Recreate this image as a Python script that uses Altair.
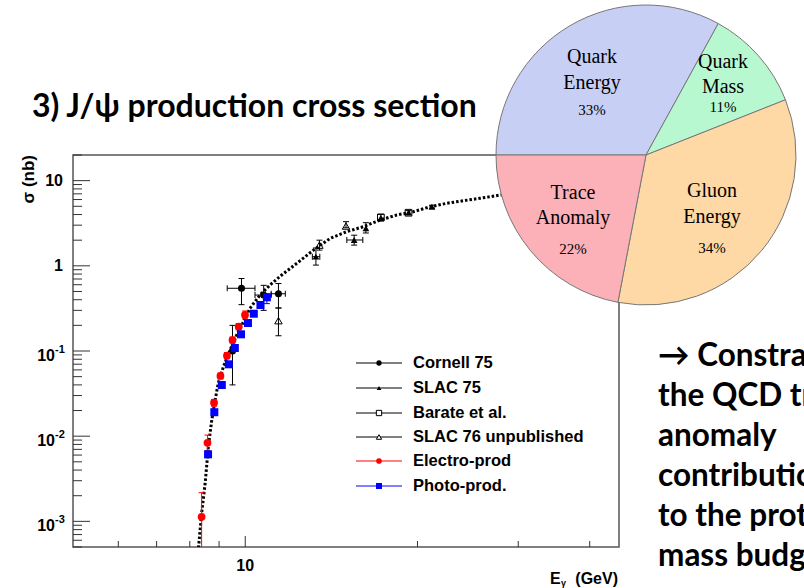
import math
import altair as alt
import pandas as pd

# ---------------- data ----------------
# theory curve (dotted)
curve_E = [8.23, 8.39, 8.51, 8.62, 8.74, 8.86, 8.97, 9.16, 9.41, 9.66, 9.93, 10.19, 10.61,
           11.05, 11.58, 12.35, 13.16, 14.07, 15.05, 16.09, 17.21, 18.40, 19.67, 21.04,
           22.5, 24.06, 25.7, 27.9, 35.0, 45.0]
curve_sigma = [3.0e-4, 1.24e-3, 2.8e-3, 7.5e-3, 1.55e-2, 2.66e-2, 4.18e-2, 6.54e-2, 0.103,
               0.154, 0.221, 0.317, 0.454, 0.596, 0.78, 1.09, 1.53, 2.10, 2.52, 2.88, 3.45,
               3.95, 4.32, 4.94, 5.42, 5.81, 6.20, 6.78, 8.0, 9.2]

# Cornell 75
cornell_E = [9.85, 10.77, 11.43, 9.50]
cornell_sigma = [0.545, 0.454, 0.47, 0.10]
cornell_lo = [0.35, 0.30, 0.32, 0.04]
cornell_hi = [0.71, 0.59, 0.62, 0.20]
cornell_Elo = [9.3, 10.4, 11.1, None]
cornell_Ehi = [10.4, 11.1, 11.75, None]

# SLAC 75
slac75_E = [13.29, 15.5, 16.25, 17.26, 19.29, 21.2]
slac75_sigma = [1.28, 2.01, 2.76, 3.67, 4.21, 4.94]
slac75_lo = [1.02, 1.75, 2.43, 3.36, 4.0, 4.75]
slac75_hi = [1.62, 2.29, 3.21, 4.02, 4.45, 5.15]
slac75_Elo = [13.1, 15.05, None, None, None, None]
slac75_Ehi = [13.5, 16.05, None, None, None, None]

# Barate et al.
barate_E = [17.26, 19.29]
barate_sigma = [3.7, 4.2]

# SLAC 76 unpublished
slac76_E = [11.43, 13.48, 15.0]
slac76_sigma = [0.227, 1.75, 2.93]
slac76_lo = [0.151, 1.53, 2.8]
slac76_hi = [0.32, 2.0, 3.3]

# Electro-production
electro_E = [8.39, 8.59, 8.82, 9.05, 9.29, 9.50, 9.74, 9.99]
electro_sigma = [1.13e-3, 8.37e-3, 2.47e-2, 5.09e-2, 8.81e-2, 0.1346, 0.193, 0.265]
electro_lo = [1e-4, 6.8e-3, 2.25e-2, 4.7e-2, 8.1e-2, 0.124, 0.177, 0.238]
electro_hi = [2.17e-3, 1.03e-2, 2.7e-2, 5.5e-2, 9.6e-2, 0.146, 0.21, 0.295]

# Photo-production
photo_E = [8.61, 8.83, 9.10, 9.36, 9.59, 9.83, 10.11, 10.35, 10.63, 10.91]
photo_sigma = [6.12e-3, 1.91e-2, 3.99e-2, 6.98e-2, 0.1084, 0.157, 0.213, 0.274, 0.347, 0.427]
photo_lo = [5.9e-3, 1.85e-2, 3.85e-2, 6.75e-2, 0.105, 0.152, 0.206, 0.265, 0.336, 0.36]
photo_hi = [6.35e-3, 1.97e-2, 4.13e-2, 7.2e-2, 0.112, 0.162, 0.22, 0.283, 0.358, 0.47]

# axes
y_major = [10, 1, 0.1, 0.01, 0.001]
y_label_base = ["10", "1", "10", "10", "10"]
y_label_exp = ["", "", "-1", "-2", "-3"]
y_minor = [m * d for d in [1e-4, 1e-3, 1e-2, 1e-1, 1, 10] for m in range(2, 10)
           if 5e-4 <= m * d <= 20]
x_major = [10]
x_minor = [6, 7, 8, 9, 20, 30, 40]

legend_labels = ["Cornell 75", "SLAC 75", "Barate et al.", "SLAC 76 unpublished",
                 "Electro-prod", "Photo-prod."]

# pie
pie_parts = ["Quark Energy", "Quark Mass", "Gluon Energy", "Trace Anomaly"]
pie_pcts = [33, 11, 34, 22]
pie_colors = ["#c8cff5", "#b8f8d0", "#fed8a5", "#fcb0b8"]
pie_line1 = ["Quark", "Quark", "Gluon", "Trace"]
pie_line2 = ["Energy", "Mass", "Energy", "Anomaly"]
pie_pct_text = ["33%", "11%", "34%", "22%"]

title_text = "3) J/\u03c8 production cross section"
side_text = ["\u2192 Constrain", "the QCD trace", "anomaly", "contribution",
             "to the proton", "mass budget"]

# ---------------- chart ----------------
W, H = 546, 392
xs = alt.Scale(type="log", domain=[5, 45], nice=False)
ys = alt.Scale(type="log", domain=[5e-4, 20], nice=False)
SANS = "Liberation Sans"
dummy = pd.DataFrame({"a": [0]})


def X(f):
    return alt.X(f"{f}:Q", scale=xs, axis=None)


def Y(f):
    return alt.Y(f"{f}:Q", scale=ys, axis=None)


layers = []

# ticks
layers.append(alt.Chart(pd.DataFrame({"v": y_major})).mark_rule(color="#333", strokeWidth=1)
              .encode(y=Y("v"), x=alt.value(0), x2=alt.value(17)))
layers.append(alt.Chart(pd.DataFrame({"v": y_minor})).mark_rule(color="#333", strokeWidth=1)
              .encode(y=Y("v"), x=alt.value(0), x2=alt.value(9)))
layers.append(alt.Chart(pd.DataFrame({"v": x_major})).mark_rule(color="#333", strokeWidth=1)
              .encode(x=X("v"), y=alt.value(H), y2=alt.value(H - 11)))
layers.append(alt.Chart(pd.DataFrame({"v": x_minor})).mark_rule(color="#333", strokeWidth=1)
              .encode(x=X("v"), y=alt.value(H), y2=alt.value(H - 6)))

# y tick labels
ylab = pd.DataFrame({"v": y_major, "base": y_label_base, "exp": y_label_exp})
plain = ylab[ylab["exp"] == ""]
expd = ylab[ylab["exp"] != ""]
layers.append(alt.Chart(plain).mark_text(font=SANS, fontSize=16, fontWeight="bold",
                                         align="right", baseline="middle")
              .encode(y=Y("v"), x=alt.value(-10), text="base:N"))
layers.append(alt.Chart(expd).mark_text(font=SANS, fontSize=16, fontWeight="bold",
                                        align="right", baseline="middle", dy=5)
              .encode(y=Y("v"), x=alt.value(-18), text="base:N"))
layers.append(alt.Chart(expd).mark_text(font=SANS, fontSize=11, fontWeight="bold",
                                        align="left", baseline="middle", dy=-1)
              .encode(y=Y("v"), x=alt.value(-18), text="exp:N"))
# x tick label
layers.append(alt.Chart(pd.DataFrame({"v": x_major, "t": ["10"]}))
              .mark_text(font=SANS, fontSize=16, fontWeight="bold", baseline="alphabetic")
              .encode(x=X("v"), y=alt.value(416), text="t:N"))

# axis titles
layers.append(alt.Chart(dummy).mark_text(text="\u03c3 (nb)", font=SANS, fontSize=17,
                                         fontWeight="bold", angle=270, align="right",
                                         baseline="middle")
              .encode(x=alt.value(-44), y=alt.value(0)))
layers.append(alt.Chart(dummy).mark_text(text="(GeV)", font=SANS, fontSize=16,
                                         fontWeight="bold", align="right")
              .encode(x=alt.value(545), y=alt.value(424)))
layers.append(alt.Chart(dummy).mark_text(text="E", font=SANS, fontSize=16,
                                         fontWeight="bold", align="left")
              .encode(x=alt.value(477), y=alt.value(424)))
layers.append(alt.Chart(dummy).mark_text(text="\u03b3", font=SANS, fontSize=9,
                                         fontWeight="bold", align="left")
              .encode(x=alt.value(488), y=alt.value(428)))

# theory curve
layers.append(alt.Chart(pd.DataFrame({"E": curve_E, "s": curve_sigma}))
              .mark_line(color="black", strokeWidth=3, strokeDash=[2.5, 2], clip=True)
              .encode(x=X("E"), y=Y("s")))


def series(E, s, lo=None, hi=None, Elo=None, Ehi=None, color="black", shape="circle",
           size=45, filled=True):
    out = []
    df = pd.DataFrame({"E": E, "s": s})
    if lo is not None:
        df["lo"] = lo
        df["hi"] = hi
        out.append(alt.Chart(df).mark_rule(color=color, strokeWidth=1, clip=True)
                   .encode(x=X("E"), y=Y("lo"), y2="hi:Q"))
        for f in ["lo", "hi"]:
            out.append(alt.Chart(df).mark_tick(orient="horizontal", size=6, thickness=1,
                                               color=color, clip=True, opacity=1)
                       .encode(x=X("E"), y=Y(f)))
    if Elo is not None:
        dx = pd.DataFrame({"s": s, "Elo": Elo, "Ehi": Ehi}).dropna()
        out.append(alt.Chart(dx).mark_rule(color=color, strokeWidth=1, clip=True)
                   .encode(y=Y("s"), x=X("Elo"), x2="Ehi:Q"))
        for f in ["Elo", "Ehi"]:
            out.append(alt.Chart(dx).mark_tick(orient="vertical", size=6, thickness=1,
                                               color=color, clip=True, opacity=1)
                       .encode(x=X(f), y=Y("s")))
    if filled:
        out.append(alt.Chart(df).mark_point(shape=shape, size=size, filled=True, color=color,
                                            opacity=1, clip=True)
                   .encode(x=X("E"), y=Y("s")))
    else:
        out.append(alt.Chart(df).mark_point(shape=shape, size=size, filled=False, color=color,
                                            opacity=1, strokeWidth=1, clip=True)
                   .encode(x=X("E"), y=Y("s")))
    return out


layers += series(cornell_E, cornell_sigma, cornell_lo, cornell_hi, cornell_Elo, cornell_Ehi,
                 color="black", shape="circle", size=50)
layers += series(slac75_E, slac75_sigma, slac75_lo, slac75_hi, slac75_Elo, slac75_Ehi,
                 color="black", shape="triangle-up", size=45)
layers += series(barate_E, barate_sigma, color="black", shape="square", size=45, filled=False)
layers += series(slac76_E, slac76_sigma, slac76_lo, slac76_hi, color="black",
                 shape="triangle-up", size=55, filled=False)
layers += series(electro_E, electro_sigma, electro_lo, electro_hi, color="#ff0000",
                 shape="circle", size=60)
layers += series(photo_E, photo_sigma, photo_lo, photo_hi, color="#0000ff",
                 shape="square", size=64)

# legend (inside the frame)
leg_y = [208, 233, 258, 282, 306, 331]
leg_style = [("black", "circle", True, 28), ("black", "triangle-up", True, 22),
             ("black", "square", False, 28), ("black", "triangle-up", False, 28),
             ("#ff0000", "circle", True, 32), ("#0000ff", "square", True, 36)]
for lab, yy, (c, shp, fl, sz) in zip(legend_labels, leg_y, leg_style):
    layers.append(alt.Chart(dummy).mark_rule(color=c, strokeWidth=1)
                  .encode(x=alt.value(283), x2=alt.value(329), y=alt.value(yy)))
    layers.append(alt.Chart(dummy).mark_point(shape=shp, filled=fl, color=c, size=sz, opacity=1,
                                              fill=c if fl else "white", strokeWidth=1)
                  .encode(x=alt.value(306), y=alt.value(yy)))
    layers.append(alt.Chart(dummy).mark_text(text=lab, font=SANS, fontSize=16.5,
                                             fontWeight="bold", align="left",
                                             baseline="middle")
                  .encode(x=alt.value(340), y=alt.value(yy)))

# pie chart
pie_df = pd.DataFrame({"part": pie_parts, "pct": pie_pcts, "idx": list(range(len(pie_parts)))})
layers.append(alt.Chart(pie_df).mark_arc(radius=150, stroke="#777", strokeWidth=1)
              .encode(theta=alt.Theta("pct:Q", stack=True,
                                      scale=alt.Scale(range=[-math.pi / 2, 3 * math.pi / 2])),
                      color=alt.Color("part:N", scale=alt.Scale(domain=pie_parts,
                                                                range=pie_colors),
                                      legend=None),
                      order=alt.Order("idx:Q"),
                      x=alt.value(573), y=alt.value(0)))
pie_pos = [(519, -98, -72, -45), (650, -93, -68, -48), (639, 36, 62, 93), (500, 38, 63, 94)]
SERIF = "Liberation Serif"
for l1, l2, pt, (px, y1, y2, y3) in zip(pie_line1, pie_line2, pie_pct_text, pie_pos):
    for t, yy, fs in [(l1, y1, 20), (l2, y2, 20), (pt, y3, 15)]:
        layers.append(alt.Chart(dummy).mark_text(text=t, font=SERIF, fontSize=fs,
                                                 align="center", baseline="middle",
                                                 color="black")
                      .encode(x=alt.value(px), y=alt.value(yy)))

# slide texts
layers.append(alt.Chart(dummy).mark_text(text=title_text, font="Lato", fontSize=32,
                                         fontWeight="bold", align="left",
                                         baseline="alphabetic", color="black")
              .encode(x=alt.value(-41), y=alt.value(-38)))
for i, t in enumerate(side_text):
    layers.append(alt.Chart(dummy).mark_text(text=t, font="Lato", fontSize=31.5,
                                             fontWeight="bold", align="left",
                                             baseline="alphabetic", color="black")
                  .encode(x=alt.value(585), y=alt.value(211 + 40 * i)))

chart = (alt.layer(*layers)
         .properties(width=W, height=H, background="white",
                     autosize=alt.AutoSizeParams(type="none"),
                     padding={"left": 73, "top": 155, "right": 185, "bottom": 41})
         .configure_view(stroke="#555", strokeWidth=1.5))

chart.save("out.html", embed_options={"renderer": "svg", "actions": False})
